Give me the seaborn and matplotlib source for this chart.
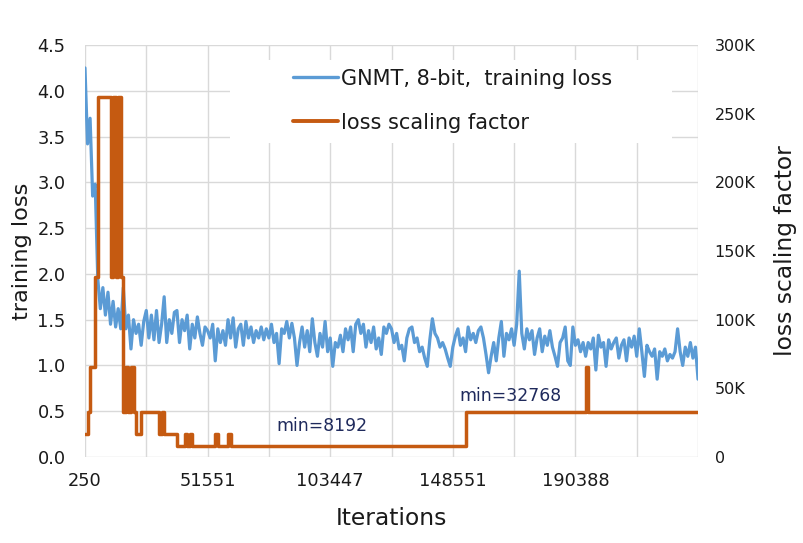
import numpy as np
import pandas as pd
import matplotlib
matplotlib.use("Agg")
import matplotlib.pyplot as plt
import seaborn as sns
from matplotlib.lines import Line2D
from matplotlib.patches import Rectangle

loss = [
    4.25, 3.42, 3.70, 2.85, 2.98, 1.95, 1.62, 1.85, 1.55, 1.80,
    1.45, 1.70, 1.42, 1.62, 1.40, 1.85, 1.40, 1.55, 1.18, 1.50,
    1.35, 1.45, 1.22, 1.48, 1.60, 1.30, 1.55, 1.28, 1.60, 1.25,
    1.45, 1.75, 1.25, 1.50, 1.35, 1.58, 1.60, 1.25, 1.50, 1.38,
    1.55, 1.18, 1.45, 1.30, 1.53, 1.35, 1.22, 1.42, 1.38, 1.30,
    1.45, 1.05, 1.40, 1.25, 1.38, 1.22, 1.50, 1.30, 1.52, 1.20,
    1.40, 1.45, 1.22, 1.48, 1.30, 1.42, 1.25, 1.38, 1.30, 1.42,
    1.28, 1.40, 1.30, 1.45, 1.25, 1.35, 1.02, 1.40, 1.35, 1.48,
    1.30, 1.46, 1.30, 1.00, 1.25, 1.42, 1.20, 1.38, 1.15, 1.51,
    1.25, 1.10, 1.35, 1.20, 1.48, 1.15, 1.30, 0.99, 1.25, 1.20,
    1.33, 1.15, 1.40, 1.28, 1.42, 1.15, 1.45, 1.50, 1.35, 1.45,
    1.20, 1.38, 1.25, 1.42, 1.18, 1.30, 1.12, 1.42, 1.35, 1.45,
    1.40, 1.25, 1.35, 1.18, 1.22, 1.05, 1.30, 1.40, 1.42, 1.25,
    1.30, 1.15, 1.20, 1.08, 0.99, 1.28, 1.51, 1.35, 1.30, 1.20,
    1.25, 1.18, 1.08, 0.99, 1.20, 1.32, 1.40, 1.22, 1.30, 1.15,
    1.42, 1.28, 1.35, 1.25, 1.38, 1.42, 1.30, 1.12, 0.92, 1.10,
    1.25, 1.05, 1.30, 1.48, 1.10, 1.35, 1.28, 1.40, 1.22, 1.45,
    2.03, 1.35, 1.18, 1.40, 1.28, 1.38, 1.12, 1.30, 1.40, 1.15,
    1.32, 1.22, 1.38, 1.20, 1.10, 0.99, 1.25, 1.30, 1.42, 1.05,
    1.00, 1.42, 1.22, 1.28, 1.15, 1.25, 1.10, 1.25, 1.18, 1.30,
    0.95, 1.33, 1.20, 1.25, 0.99, 1.28, 1.18, 1.25, 1.30, 1.08,
    1.22, 1.28, 1.05, 1.30, 1.20, 1.32, 1.10, 1.40, 1.15, 0.88,
    1.22, 1.15, 1.10, 1.18, 0.85, 1.15, 1.10, 1.18, 1.05, 1.12,
    1.08, 1.15, 1.40, 1.15, 1.00, 1.20, 1.10, 1.25, 1.08, 1.20,
    0.85,
]

# loss scaling factor at the same steps
scale = (
    [16384, 32768, 65536, 65536, 131072]
    + [262144] * 5
    + [131072, 262144, 131072, 262144, 131072]
    + [32768, 65536, 32768, 65536, 32768]
    + [16384, 16384]
    + [32768] * 7
    + [16384, 32768]
    + [16384] * 5
    + [8192, 8192, 8192, 16384, 8192, 16384]
    + [8192] * 9
    + [16384]
    + [8192] * 4
    + [16384]
    + [8192] * 92
    + [32768] * 47
    + [65536]
    + [32768] * 44
)

tick_pos = [0, 48, 96, 144, 192]
tick_labels = ["250", "51551", "103447", "148551", "190388"]

df = pd.DataFrame({"step": np.arange(len(loss)), "loss": loss, "scale": scale})

sns.set_style("white")
plt.rcParams["font.family"] = ["DejaVu Sans"]

blue = "#5b9bd5"
orange = "#c55a11"
grid_c = "#d9d9d9"
txt = "#1a1a1a"

fig = plt.figure(figsize=(8.04, 5.43), dpi=100)
ax = fig.add_axes([0.1057, 0.1584, 0.7625, 0.7587])
ax2 = ax.twinx()

sns.lineplot(data=df, x="step", y="loss", ax=ax, color=blue, linewidth=2.3)
sns.lineplot(data=df, x="step", y="scale", ax=ax2, color=orange,
             linewidth=2.5, drawstyle="steps-post")

n = len(loss) - 1
ax.set_xlim(0, n)
ax.set_ylim(0, 4.5)
ax2.set_ylim(0, 300000)

ax.set_yticks(np.arange(0, 4.51, 0.5))
ax.set_yticklabels([f"{v:.1f}" for v in np.arange(0, 4.51, 0.5)])
ax.set_xticks(np.arange(0, n + 1, 24), minor=True)
ax.set_xticks(tick_pos)
ax.set_xticklabels(tick_labels)
ax2.set_yticks(np.arange(0, 300001, 50000))
ax2.set_yticklabels(["0"] + [f"{v // 1000}K" for v in range(50000, 300001, 50000)])

ax.grid(True, which="both", color=grid_c, linewidth=1)
ax.set_axisbelow(True)
for a in (ax, ax2):
    for s in a.spines.values():
        s.set_visible(False)
ax.tick_params(axis="both", which="both", length=0, colors=txt)
ax.tick_params(axis="y", labelsize=12.8, pad=14)
ax.tick_params(axis="x", labelsize=12.8, pad=11)
ax2.tick_params(axis="y", length=0, labelsize=11.5, pad=12, colors=txt)

ax.set_xlabel("Iterations", fontsize=16.8, color=txt, labelpad=12)
ax.set_ylabel("training loss", fontsize=16.2, color=txt, labelpad=4)
ax2.set_ylabel("loss scaling factor", fontsize=16.8, color=txt, labelpad=13)

# white box behind legend hides the grid
ax2.add_patch(Rectangle((0.237, 0.762), 0.721, 0.202, transform=ax2.transAxes,
                        facecolor="white", edgecolor="none", zorder=0))
handles = [Line2D([], [], color=blue, linewidth=2.4),
           Line2D([], [], color=orange, linewidth=2.8)]
ax2.legend(handles, ["GNMT, 8-bit,  training loss", "loss scaling factor"],
           loc="center left", bbox_to_anchor=(0.309, 0.865), frameon=False,
           fontsize=15, handlelength=2.16, handletextpad=0.15, labelspacing=1.15,
           labelcolor=txt)

ax2.text(0.313, 0.075, "min=8192", transform=ax2.transAxes, fontsize=12.4,
         color="#1f2a5c", va="center")
ax2.text(0.61, 0.148, "min=32768", transform=ax2.transAxes, fontsize=12.4,
         color="#1f2a5c", va="center")

fig.savefig("out.png", dpi=100)
